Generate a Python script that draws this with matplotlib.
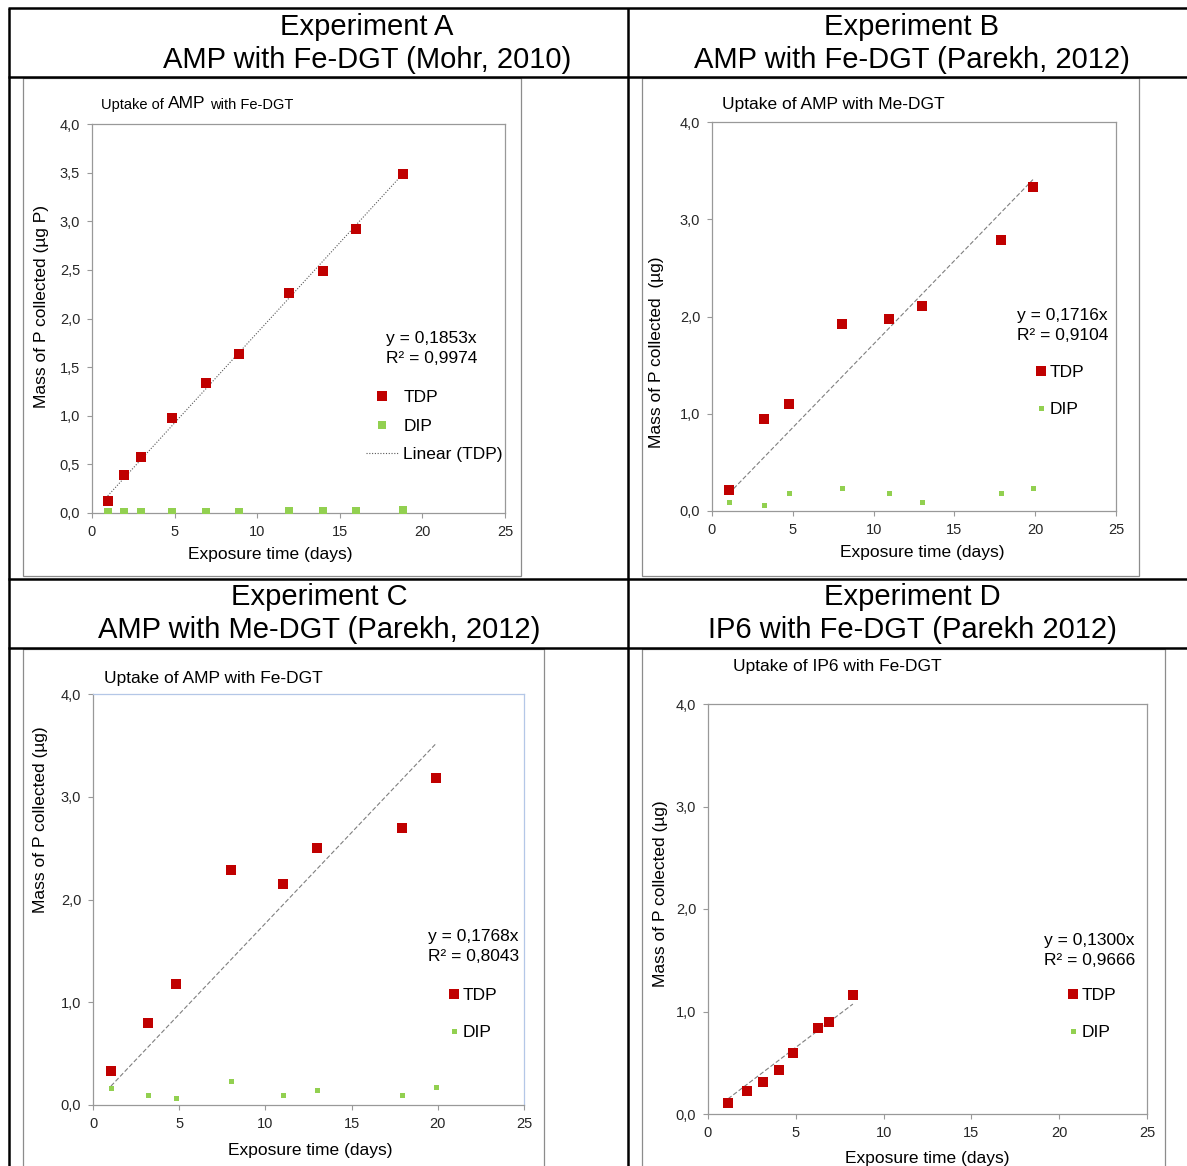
import numpy as np
import matplotlib
matplotlib.use("Agg")
import matplotlib.pyplot as plt
from matplotlib.ticker import FuncFormatter, MultipleLocator
from matplotlib.patches import Rectangle

plt.rcParams['font.family'] = ['Liberation Sans', 'DejaVu Sans']

W, H = 1187, 1166

# Experimento A (Mohr, 2010)
dias_a = [0.95, 1.96, 2.96, 4.86, 6.9, 8.9, 11.9, 14.0, 16.0, 18.8]
tdp_a = [0.12, 0.39, 0.58, 0.98, 1.34, 1.64, 2.26, 2.49, 2.92, 3.49]
dip_a = [0.01, 0.01, 0.01, 0.01, 0.01, 0.01, 0.02, 0.02, 0.02, 0.03]
pend_a, r2_a = 0.1853, 0.9974

# Experimento B (Parekh, 2012)
dias_b = [1.05, 3.23, 4.79, 8.02, 10.96, 12.98, 17.86, 19.86]
tdp_b = [0.22, 0.95, 1.10, 1.92, 1.97, 2.11, 2.79, 3.33]
dip_b = [0.09, 0.065, 0.19, 0.24, 0.19, 0.09, 0.19, 0.24]
pend_b, r2_b = 0.1716, 0.9104

# Experimento C (Parekh, 2012)
dias_c = [1.04, 3.2, 4.8, 8.0, 11.0, 13.0, 17.9, 19.9]
tdp_c = [0.33, 0.80, 1.18, 2.29, 2.15, 2.50, 2.70, 3.18]
dip_c = [0.17, 0.10, 0.065, 0.23, 0.10, 0.15, 0.10, 0.18]
pend_c, r2_c = 0.1768, 0.8043

# Experimento D (Parekh 2012) - sin puntos DIP visibles
dias_d = [1.14, 2.2, 3.12, 4.05, 4.83, 6.26, 6.89, 8.25]
tdp_d = [0.11, 0.22, 0.31, 0.43, 0.60, 0.84, 0.90, 1.16]
dip_d = []
pend_d, r2_d = 0.1300, 0.9666

encabezados = [
    ("Experiment A", "AMP with Fe-DGT (Mohr, 2010)", 367, 27),
    ("Experiment B", "AMP with Fe-DGT (Parekh, 2012)", 912, 27),
    ("Experiment C", "AMP with Me-DGT (Parekh, 2012)", 319, 597),
    ("Experiment D", "IP6 with Fe-DGT (Parekh 2012)", 912, 597),
]

ROJO = '#C00000'
VERDE = '#92D050'
GRIS = '#999999'


def caja(izq, der, arriba, abajo):
    """Convierte una caja en pixeles a coordenadas de figura"""
    return [izq / W, 1 - abajo / H, (der - izq) / W, (abajo - arriba) / H]


def coma(v, pos):
    return f"{v:.1f}".replace(".", ",")


fig = plt.figure(figsize=(W / 100, H / 100), dpi=100)

# capa de fondo en pixeles para la tabla y los textos
fondo = fig.add_axes([0, 0, 1, 1])
fondo.set_xlim(0, W)
fondo.set_ylim(H, 0)
fondo.axis('off')

# lineas de la tabla
for y in [8, 77, 579, 648]:
    fondo.plot([8, W], [y, y], color='black', lw=1.8, solid_capstyle='butt')
for x in [9, 628]:
    fondo.plot([x, x], [8, H], color='black', lw=1.8, solid_capstyle='butt')

for linea1, linea2, cx, cy in encabezados:
    fondo.text(cx, cy, linea1, ha='center', va='center', fontsize=21)
    fondo.text(cx, cy + 33, linea2, ha='center', va='center', fontsize=21)

# marcos de cada grafica
for x0, y0, x1, y1 in [(23, 78, 521, 576), (642, 78, 1139, 576),
                       (23, 649, 544, 1170), (642, 649, 1165, 1170)]:
    fondo.add_patch(Rectangle((x0, y0), x1 - x0, y1 - y0, fill=False,
                              ec='#8c8c8c', lw=0.9))


def grafica(box, dias, tdp, dip, pend, r2, paso_y, ylabel, pos_x, pos_y,
            pos_eq, pos_ley, ms_tdp, ms_dip, punteada=False, borde_azul=False):
    ax = fig.add_axes(caja(*box))
    ax.set_facecolor('none')
    ax.plot(dias, tdp, 's', ms=ms_tdp, color=ROJO, mew=0, label='TDP', zorder=3)
    ax.plot(dias[:len(dip)], dip, 's', ms=ms_dip, color=VERDE, mew=0,
            label='DIP', zorder=3)

    # linea de tendencia por el origen
    xs = np.array([min(dias), max(dias)])
    if punteada:
        ax.plot(xs, pend * xs, color='#595959', lw=0.8, ls=(0, (1, 1.5)),
                label='Linear (TDP)', zorder=2)
    else:
        ax.plot(xs, pend * xs, color='#7f7f7f', lw=0.8, ls=(0, (4, 2)),
                label='_nolegend_', zorder=2)

    ax.set_xlim(0, 25)
    ax.set_ylim(0, 4)
    ax.xaxis.set_major_locator(MultipleLocator(5))
    ax.yaxis.set_major_locator(MultipleLocator(paso_y))
    ax.yaxis.set_major_formatter(FuncFormatter(coma))
    ax.tick_params(direction='out', length=3.5, width=0.8, color=GRIS,
                   labelsize=10.5, labelcolor='#262626', pad=5)
    for s in ax.spines.values():
        s.set_color(GRIS)
        s.set_linewidth(0.9)
    if borde_azul:
        ax.spines['top'].set_color('#B4C7E7')
        ax.spines['right'].set_color('#B4C7E7')

    ax.set_xlabel("Exposure time (days)", fontsize=12.5)
    ax.set_ylabel(ylabel, fontsize=12.5)
    ax.xaxis.set_label_coords(*pos_x, transform=fondo.transData)
    ax.yaxis.set_label_coords(*pos_y, transform=fondo.transData)
    ax.xaxis.label.set_va('center')
    ax.yaxis.label.set_va('center')

    eq = f"y = {pend:.4f}x\nR² = {r2:.4f}".replace(".", ",")
    fondo.text(pos_eq[0], pos_eq[1], eq, ha='right', va='top', fontsize=12.5,
               multialignment='right', linespacing=1.4)

    if punteada:
        ax.legend(loc='center left', bbox_to_anchor=pos_ley,
                  bbox_transform=fondo.transData, frameon=False, fontsize=12.5,
                  borderpad=0, borderaxespad=0, handlelength=1.85,
                  handletextpad=0.3, labelspacing=0.78)
    else:
        ax.legend(loc='center left', bbox_to_anchor=pos_ley,
                  bbox_transform=fondo.transData, frameon=False, fontsize=12.5,
                  borderpad=0, borderaxespad=0, handlelength=0.6,
                  handletextpad=0.2, labelspacing=1.3)
    return ax


grafica((92, 505, 124, 513), dias_a, tdp_a, dip_a, pend_a, r2_a, 0.5,
        "Mass of P collected (µg P)", (270, 555), (42, 307), (477, 331),
        (366, 426), 7, 6.2, punteada=True)
grafica((712, 1116, 122, 511), dias_b, tdp_b, dip_b, pend_b, r2_b, 1.0,
        "Mass of P collected  (µg)", (922, 553), (657, 352), (1108, 308),
        (1036, 391), 6.7, 3.6)
grafica((93, 524, 694, 1105), dias_c, tdp_c, dip_c, pend_c, r2_c, 1.0,
        "Mass of P collected (µg)", (310, 1151), (41, 820), (519, 929),
        (449, 1014), 6.7, 3.6, borde_azul=True)
grafica((708, 1147, 704, 1114), dias_d, tdp_d, dip_d, pend_d, r2_d, 1.0,
        "Mass of P collected (µg)", (927, 1158), (661, 894), (1135, 933),
        (1068, 1014), 6.7, 3.6)

# titulos de cada grafica
fondo.text(101, 105, "Uptake of", ha='left', va='center', fontsize=10.5)
fondo.text(168, 104, "AMP", ha='left', va='center', fontsize=12.5)
fondo.text(210, 105, "with Fe-DGT", ha='left', va='center', fontsize=10.5)
fondo.text(722, 105, "Uptake of AMP with Me-DGT", ha='left', va='center', fontsize=12.5)
fondo.text(104, 679, "Uptake of AMP with Fe-DGT", ha='left', va='center', fontsize=12.5)
fondo.text(733, 666, "Uptake of IP6 with Fe-DGT", ha='left', va='center', fontsize=12.5)

fig.savefig("out.png", dpi=100)
plt.close()
